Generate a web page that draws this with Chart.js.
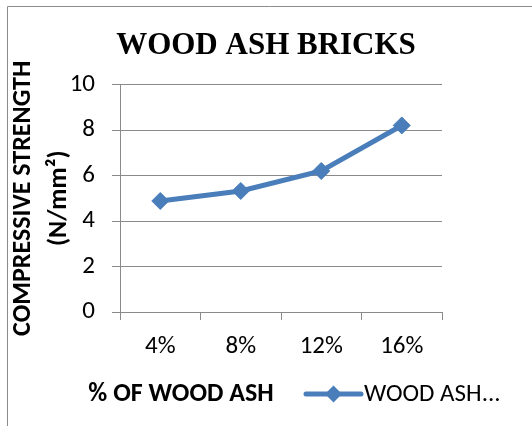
<!DOCTYPE html>
<html>
<head>
<meta charset="utf-8">
<script src="https://cdn.jsdelivr.net/npm/chart.js@4.4.0/dist/chart.umd.min.js"></script>
<style>
  html, body { margin: 0; padding: 0; background: #ffffff; }
  #wrap { width: 532px; height: 426px; position: relative; }
</style>
</head>
<body>
<div id="wrap"><canvas id="c" width="532" height="426"></canvas></div>
<script>
// ---- data ----
const chartTitle = 'WOOD ASH BRICKS';
const categories = ['4%', '8%', '12%', '16%'];
const seriesLabel = 'WOOD ASH...';
const strengthValues = [4.88, 5.32, 6.2, 8.2];
const yTitleLines = ['COMPRESSIVE STRENGTH', '(N/mm\u00B2)'];
const xTitleText = '% OF WOOD ASH';
const yMin = 0, yMax = 10, yStep = 2;

const SANS = 'Carlito, Lato, "Open Sans", sans-serif';
const BLUE = '#4a7ebb';
const GRID = '#8a8a8a';
const FS = 25;

const framePlugin = {
  id: 'frame',
  beforeDraw(chart) {
    const ctx = chart.ctx;
    ctx.save();
    ctx.fillStyle = '#ffffff';
    ctx.fillRect(0, 0, chart.width, chart.height);
    ctx.strokeStyle = '#8c8c8c';
    ctx.lineWidth = 1;
    ctx.beginPath();
    ctx.moveTo(7.5, chart.height);
    ctx.lineTo(7.5, 6.5);
    ctx.lineTo(chart.width, 6.5);
    ctx.stroke();
    ctx.restore();
  }
};

const xTitleLegendPlugin = {
  id: 'xTitleLegend',
  afterDraw(chart) {
    const ctx = chart.ctx;
    const ds = chart.data.datasets[0];
    ctx.save();
    // x axis title
    ctx.fillStyle = '#000000';
    ctx.font = 'bold 26px ' + SANS;
    ctx.textAlign = 'center';
    ctx.textBaseline = 'middle';
    ctx.fillText(xTitleText, 181, 394);
    // legend entry: line + diamond + label
    const ly = 394;
    ctx.strokeStyle = ds.borderColor;
    ctx.lineWidth = ds.borderWidth;
    ctx.lineCap = 'round';
    ctx.beginPath();
    ctx.moveTo(306, ly);
    ctx.lineTo(361, ly);
    ctx.stroke();
    const r = 8.5;
    ctx.fillStyle = ds.pointBackgroundColor;
    ctx.beginPath();
    ctx.moveTo(333.5, ly - r);
    ctx.lineTo(333.5 + r, ly);
    ctx.lineTo(333.5, ly + r);
    ctx.lineTo(333.5 - r, ly);
    ctx.closePath();
    ctx.fill();
    ctx.fillStyle = '#000000';
    ctx.font = FS + 'px ' + SANS;
    ctx.textAlign = 'left';
    ctx.fillText(ds.label, 364, ly + 1);
    ctx.restore();
  }
};

new Chart(document.getElementById('c'), {
  type: 'line',
  data: {
    labels: categories,
    datasets: [{
      label: seriesLabel,
      data: strengthValues,
      borderColor: BLUE,
      backgroundColor: BLUE,
      pointBackgroundColor: BLUE,
      pointBorderColor: BLUE,
      borderWidth: 5,
      pointStyle: 'rectRot',
      pointRadius: 8.5,
      pointBorderWidth: 1,
      tension: 0,
      fill: false,
      yAxisID: 'y'
    }]
  },
  options: {
    responsive: false,
    animation: false,
    devicePixelRatio: 1,
    layout: { padding: { left: 0, right: 0, top: 10, bottom: 0 } },
    plugins: {
      legend: { display: false },
      tooltip: { enabled: false },
      title: {
        display: true,
        text: chartTitle,
        color: '#000000',
        font: { family: '"Liberation Serif", "Times New Roman", serif', size: 31, weight: 'bold', lineHeight: 1.2 },
        padding: { top: 17, bottom: 20.3 }
      }
    },
    scales: {
      x: {
        offset: true,
        grid: {
          offset: true,
          drawOnChartArea: false,
          drawTicks: true,
          tickLength: 8,
          color: GRID,
          lineWidth: 1
        },
        border: { display: true, color: GRID, width: 1 },
        ticks: {
          color: '#000000',
          font: { family: SANS, size: FS },
          padding: 12
        },
        afterFit(scale) { scale.height = 114; }
      },
      y: {
        min: yMin,
        max: yMax,
        ticks: {
          stepSize: yStep,
          color: '#000000',
          font: { family: SANS, size: FS },
          padding: 17
        },
        grid: {
          color: GRID,
          lineWidth: 1,
          drawTicks: true,
          tickLength: 8
        },
        border: { display: true, color: GRID, width: 1 },
        title: {
          display: true,
          text: yTitleLines,
          color: '#000000',
          font: { family: SANS, size: 26, weight: 'bold', lineHeight: 36 / 26 },
          padding: { top: 5, bottom: 0 }
        },
        afterFit(scale) { scale.width = 120; }
      },
      spacer: {
        position: 'right',
        display: true,
        grid: { display: false, drawTicks: false },
        border: { display: false },
        ticks: { display: false },
        afterFit(scale) { scale.width = 90; }
      }
    }
  },
  plugins: [framePlugin, xTitleLegendPlugin]
});
</script>
</body>
</html>
